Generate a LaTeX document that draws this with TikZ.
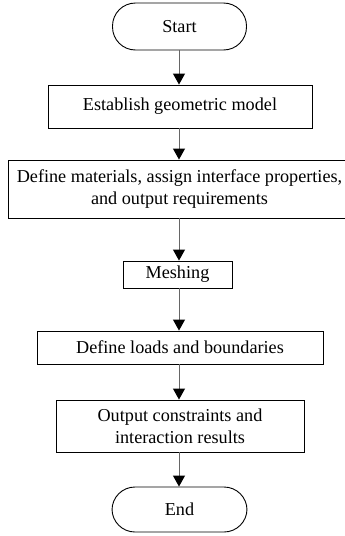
\documentclass[tikz,border=0pt]{standalone}
\usepackage{fontspec}
\setmainfont{Liberation Serif}
\usetikzlibrary{arrows.meta}
\begin{document}
\begin{tikzpicture}[x=1pt,y=-1pt,
  box/.style={draw, line width=0.9pt, inner sep=0pt, align=center, font=\fontsize{18.2}{22}\selectfont},
  term/.style={box, rounded corners=23pt},
  flow/.style={draw=black!60, line width=1pt, -{Triangle[width=12pt,length=11pt,fill=black,color=black]}}
]
\useasboundingbox (0,0) rectangle (345,536);
\clip (0,0) rectangle (345,536);
\node[term, minimum width=134pt, minimum height=47pt] (start) at (179.5,26.5) {Start};
\node[box, minimum width=264pt, minimum height=43pt] (geo) at (180,106.5) {Establish geometric model};
\node[box, minimum width=343pt, minimum height=58pt] (mat) at (179.5,189) {Define materials, assign interface properties,\\and output requirements};
\node[box, minimum width=109pt, minimum height=27pt] (mesh) at (177.5,274.5) {Meshing};
\node[box, minimum width=286pt, minimum height=33pt] (load) at (180,347.5) {Define loads and boundaries};
\node[box, minimum width=248pt, minimum height=52pt] (out) at (180,426) {Output constraints and\\interaction results};
\node[term, minimum width=135pt, minimum height=45pt] (end) at (179.5,509.5) {End};
\draw[flow] (start.south -| 179,0) -- (geo.north -| 179,0);
\draw[flow] (geo.south -| 179,0) -- (mat.north -| 179,0);
\draw[flow] (mat.south -| 179,0) -- (mesh.north -| 179,0);
\draw[flow] (mesh.south -| 179,0) -- (load.north -| 179,0);
\draw[flow] (load.south -| 179,0) -- (out.north -| 179,0);
\draw[flow] (out.south -| 179,0) -- (end.north -| 179,0);
\end{tikzpicture}
\end{document}
